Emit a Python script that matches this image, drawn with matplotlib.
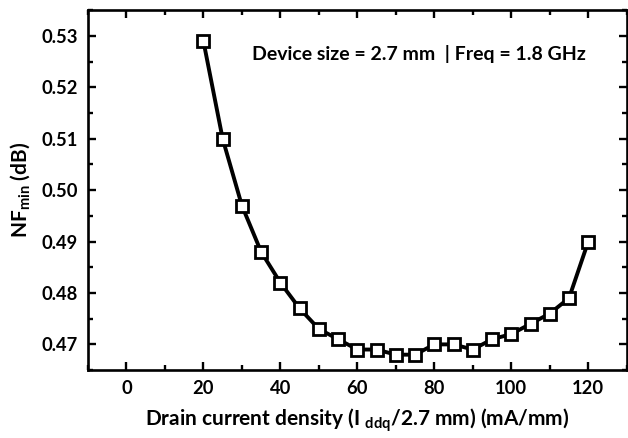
import matplotlib
matplotlib.use("Agg")
import matplotlib.pyplot as plt
from matplotlib.ticker import MultipleLocator

plt.rcParams["font.family"] = ["Lato", "DejaVu Sans"]
plt.rcParams["mathtext.default"] = "regular"

# drain current density (mA/mm) and minimum noise figure (dB)
current_density = [20, 25, 30, 35, 40, 45, 50, 55, 60, 65, 70,
                   75, 80, 85, 90, 95, 100, 105, 110, 115, 120]
nf_min = [0.529, 0.510, 0.497, 0.488, 0.482, 0.477, 0.473, 0.471, 0.469, 0.469, 0.468,
          0.468, 0.470, 0.470, 0.469, 0.471, 0.472, 0.474, 0.476, 0.479, 0.490]

fig = plt.figure(figsize=(6.28, 4.38), dpi=100)
ax = fig.add_axes([0.140, 0.155, 0.858, 0.822])

ax.plot(current_density, nf_min, color="black", lw=2.8, marker="s", ms=9,
        mfc="white", mec="black", mew=2.0, zorder=3)

ax.set_xlim(-10, 130)
ax.set_ylim(0.465, 0.535)
ax.xaxis.set_major_locator(MultipleLocator(20))
ax.xaxis.set_minor_locator(MultipleLocator(10))
ax.yaxis.set_major_locator(MultipleLocator(0.01))
ax.yaxis.set_minor_locator(MultipleLocator(0.005))
ax.yaxis.set_major_formatter(plt.FormatStrFormatter("%.2f"))

ax.tick_params(which="both", direction="in", top=True, right=True, width=1.7,
               labelsize=13.2, pad=7)
ax.tick_params(which="major", length=6)
ax.tick_params(which="minor", length=3.5)
for lab in ax.get_xticklabels() + ax.get_yticklabels():
    lab.set_fontweight("bold")
for s in ax.spines.values():
    s.set_linewidth(1.9)

ax.set_xlabel("Drain current density (I $_{ddq}$/2.7 mm) (mA/mm)",
              fontsize=15, fontweight="bold", labelpad=7)
ax.set_ylabel("NF$_{min}$ (dB)", fontsize=15, fontweight="bold", labelpad=7)

ax.text(0.304, 0.878, "Device size = 2.7 mm  | Freq = 1.8 GHz",
        transform=ax.transAxes, fontsize=14, fontweight="bold",
        ha="left", va="center")

fig.savefig("out.png", dpi=100)
